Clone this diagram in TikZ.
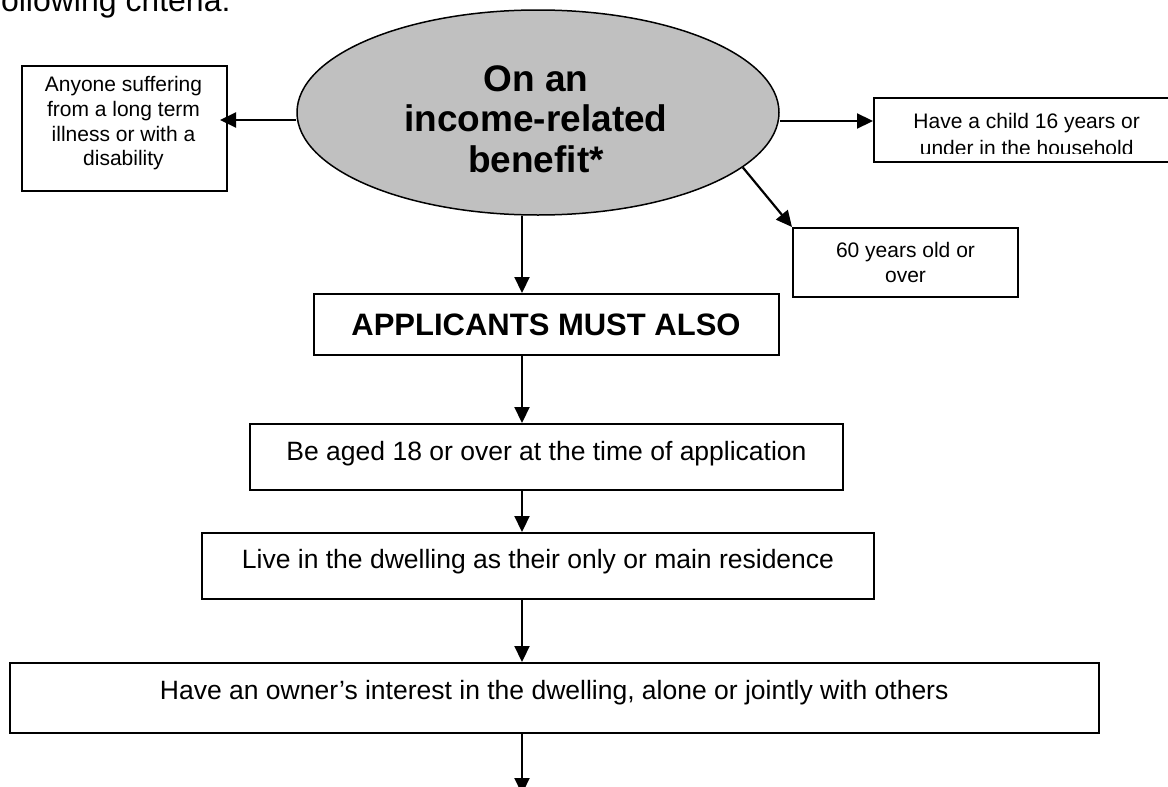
\documentclass[tikz,border=0pt]{standalone}
\usepackage{fontspec}
\setmainfont{Liberation Sans}
\usetikzlibrary{shapes.geometric,arrows.meta,calc}
\definecolor{ellgray}{RGB}{192,192,192}
\begin{document}
\begin{tikzpicture}[x=1pt,y=-1pt,
  box/.style={draw, line width=2pt, rectangle, inner sep=0pt},
  arr/.style={line width=2.2pt, -{Triangle[length=16pt,width=15pt]}},
  small/.style={font=\fontsize{21}{24.7}\selectfont, align=center},
  mid/.style={font=\fontsize{26.5}{31}\selectfont}]
\useasboundingbox (0,0) rectangle (1168,787);
\clip (0,0) rectangle (1168,787);

\node[anchor=base west, font=\fontsize{32}{38}\selectfont, inner sep=0pt] (intro) at (-8,11) {following criteria:};

\node[ellipse, draw, line width=1.5pt, fill=ellgray, minimum width=482pt, minimum height=205pt, inner sep=0pt] (ell) at (538,112.5) {};
\node[font=\bfseries\fontsize{37}{40.5}\selectfont, align=center, inner sep=0pt] (ellT) at (536,119) {On an\\income-related\\benefit*};

\node[box, minimum width=205pt, minimum height=125pt] (lbox) at (124.5,128.5) {};
\node[small, inner sep=0pt] (lboxT) at (123.5,123.5) {Anyone suffering\\from a long term\\illness or with a\\disability};

\node[box, minimum width=301pt, minimum height=64pt] (rbox) at (1024.5,130) {};
\begin{scope}
  \clip (rbox.north west) rectangle ([yshift=9.5pt]rbox.south east);
  \node[small, font=\fontsize{21}{27}\selectfont, inner sep=0pt] (rboxT) at (1026.7,134.9) {Have a child 16 years or\\under in the household};
\end{scope}

\node[box, small, minimum width=225pt, minimum height=69pt] (obox) at (905.5,262.5) {60 years old or\\over};

\node[box, minimum width=465pt, minimum height=61pt, font=\bfseries\fontsize{31}{36}\selectfont, text height=22pt, text depth=1pt] (apps) at (546,324.5) {APPLICANTS MUST ALSO};
\node[box, mid, minimum width=593pt, minimum height=66pt, text height=19pt, text depth=11.6pt] (age) at (546.5,457) {Be aged 18 or over at the time of application};
\node[box, mid, minimum width=672pt, minimum height=66pt, text height=19pt, text depth=15pt] (live) at (538,566) {Live in the dwelling as their only or main residence};
\node[box, mid, minimum width=1089pt, minimum height=70pt, text height=19pt, text depth=17pt] (owner) at (554.2,698) {Have an owner’s interest in the dwelling, alone or jointly with others};

\coordinate (spine) at (522,0);
\coordinate (lt) at ($(ell.west)+(0,7.5)$);
\coordinate (rt) at ($(ell.east)+(0,8.5)$);
\coordinate (endpt) at (522,794);

\draw[arr] (lt) -- ($(lt -| lbox.east)+(-8,0)$);
\draw[arr] (rt) -- (rt -| rbox.west);
\draw[arr] (ell.-15) -- (obox.north west);
\draw[arr] (ell.south -| spine) -- (apps.north -| spine);
\draw[arr] (apps.south -| spine) -- (age.north -| spine);
\draw[arr] (age.south -| spine) -- (live.north -| spine);
\draw[arr] (live.south -| spine) -- (owner.north -| spine);
\draw[arr] (owner.south -| spine) -- (endpt);
\end{tikzpicture}
\end{document}
